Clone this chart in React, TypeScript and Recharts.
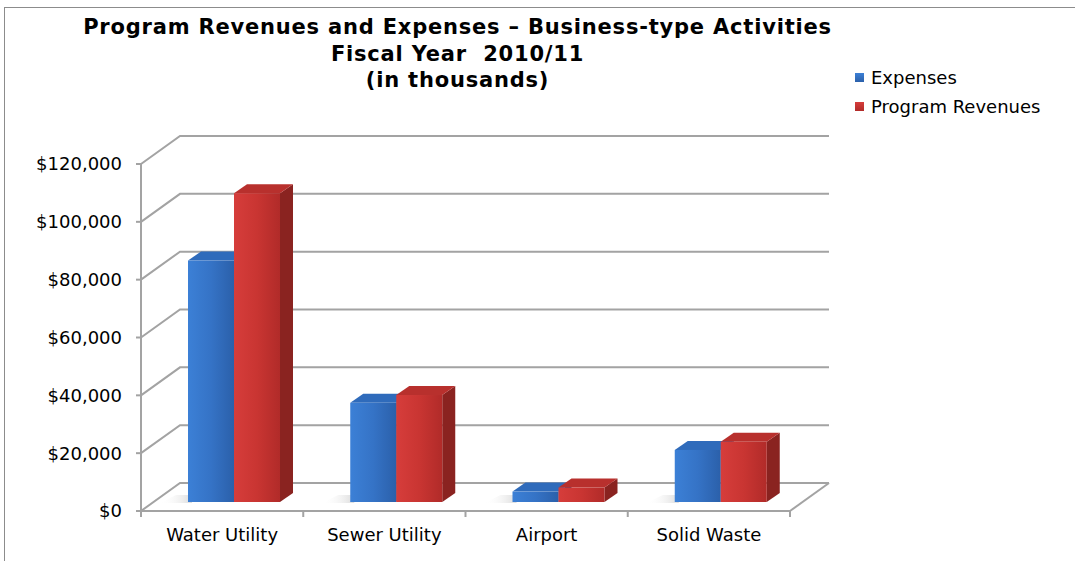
import { BarChart, Bar, XAxis, YAxis, CartesianGrid } from "recharts";

const categories = ["Water Utility", "Sewer Utility", "Airport", "Solid Waste"];
const expenses = [83500, 34300, 3600, 18000];
const programRevenues = [106800, 37000, 5000, 20800];
const yTicks = [0, 20000, 40000, 60000, 80000, 100000, 120000];

const data = categories.map((name, i) => ({
  name,
  expenses: expenses[i],
  revenues: programRevenues[i],
}));

const FONT = "Verdana, 'DejaVu Sans', sans-serif";
const CHART_W = 1075;
const CHART_H = 561;
const MARGIN = { top: 164, right: 285, bottom: 10, left: 41 };
const Y_AXIS_W = 100;
const X_AXIS_H = 40;
const PLOT_W = CHART_W - MARGIN.left - MARGIN.right - Y_AXIS_W;
const PLOT_BOTTOM = CHART_H - MARGIN.bottom - X_AXIS_H;

// 3d look: depth of the walls and of the boxes
const WALL_DX = 39;
const WALL_DY = 28;
const BAR_SHIFT_X = 12;
const BAR_SHIFT_Y = 9;
const BOX_DX = 13;
const BOX_DY = 9;

const GRID = "#a3a3a3";

const blue = { id: "blueFront", light: "#3c80d6", mid: "#3573c6", dark: "#2b60aa", top: "#2f6bbb", side: "#1f4a86" };
const red = { id: "redFront", light: "#d63d3b", mid: "#c93532", dark: "#b12b29", top: "#b8302d", side: "#8a2320" };

type Palette = typeof blue;

function boxShape(c: Palette, withShadow: boolean) {
  return (props: any) => {
    const { x, y, width, height } = props;
    if (height == null || width == null) return <g />;
    const fx = x + BAR_SHIFT_X;
    const fy = y - BAR_SHIFT_Y;
    const w = width;
    const h = height;
    const side = `${fx + w},${fy} ${fx + w + BOX_DX},${fy - BOX_DY} ${fx + w + BOX_DX},${fy + h - BOX_DY} ${fx + w},${fy + h}`;
    const top = `${fx},${fy} ${fx + BOX_DX},${fy - BOX_DY} ${fx + w + BOX_DX},${fy - BOX_DY} ${fx + w},${fy}`;
    const base = fy + h;
    const shadow = `${fx - 28},${base + 1} ${fx - 12},${base - 7} ${fx + 4},${base - 7} ${fx + 4},${base + 1}`;
    return (
      <g>
        <defs>
          <linearGradient id={c.id} x1="0" y1="0" x2="1" y2="0">
            <stop offset="0%" stopColor={c.light} />
            <stop offset="50%" stopColor={c.mid} />
            <stop offset="100%" stopColor={c.dark} />
          </linearGradient>
          <linearGradient id="floorShadow" x1="0" y1="0" x2="1" y2="0">
            <stop offset="0%" stopColor="#ffffff" stopOpacity={0} />
            <stop offset="100%" stopColor="#b8b8b8" stopOpacity={0.5} />
          </linearGradient>
        </defs>
        {withShadow && <polygon points={shadow} fill="url(#floorShadow)" />}
        <polygon points={side} fill={c.side} />
        <polygon points={top} fill={c.top} />
        <rect x={fx} y={fy} width={w} height={h} fill={`url(#${c.id})`} />
      </g>
    );
  };
}

// back-wall gridline with its diagonal on the side wall
const gridLine = (props: any) => {
  const { x1, y1, x2 } = props;
  const by = y1 - WALL_DY;
  const floor = Math.abs(y1 - PLOT_BOTTOM) < 1;
  return (
    <g key={`g-${y1}`}>
      <polyline
        points={`${x1},${y1} ${x1 + WALL_DX},${by} ${x2 + WALL_DX},${by}`}
        fill="none"
        stroke={GRID}
        strokeWidth={2}
      />
      {floor && (
        <line x1={x2} y1={y1} x2={x2 + WALL_DX} y2={by} stroke={GRID} strokeWidth={2} />
      )}
    </g>
  );
};

const XTick = (props: any) => {
  const { x, y, payload, index } = props;
  const band = PLOT_W / categories.length;
  const left = x - band / 2;
  return (
    <g>
      <line x1={left} y1={y} x2={left} y2={y + 6} stroke={GRID} strokeWidth={2} />
      {index === categories.length - 1 && (
        <line x1={x + band / 2} y1={y} x2={x + band / 2} y2={y + 6} stroke={GRID} strokeWidth={2} />
      )}
      <text x={x} y={y + 30} textAnchor="middle" fontSize={18} fontFamily={FONT} fill="#000">
        {payload.value}
      </text>
    </g>
  );
};

const legendItems = [
  { label: "Expenses", c: blue },
  { label: "Program Revenues", c: red },
];

export default function App() {
  return (
    <div style={{ position: "absolute", left: 0, top: 0, width: CHART_W, height: CHART_H, background: "#fff" }}>
      <div
        style={{
          position: "absolute",
          left: 4,
          top: 7,
          width: CHART_W - 4,
          height: CHART_H - 7,
          borderLeft: "1.5px solid #8c8c8c",
          borderTop: "1.5px solid #8c8c8c",
        }}
      />
      <div
        style={{
          position: "absolute",
          left: 0,
          top: 14,
          width: 915,
          textAlign: "center",
          fontFamily: FONT,
          fontWeight: "bold",
          fontSize: 21,
          letterSpacing: "0.8px",
          lineHeight: "26.5px",
          whiteSpace: "pre",
          color: "#000",
        }}
      >
        {"Program Revenues and Expenses \u2013 Business-type Activities\nFiscal Year  2010/11\n(in thousands)"}
      </div>
      <div style={{ position: "absolute", left: 855, top: 63, fontFamily: FONT, fontSize: 18, color: "#000" }}>
        {legendItems.map((it) => (
          <div key={it.label} style={{ display: "flex", alignItems: "center", height: 29 }}>
            <span
              style={{
                display: "inline-block",
                width: 9,
                height: 9,
                marginRight: 7,
                background: `linear-gradient(180deg, ${it.c.light}, ${it.c.dark})`,
              }}
            />
            {it.label}
          </div>
        ))}
      </div>
      <BarChart
        width={CHART_W}
        height={CHART_H}
        data={data}
        margin={MARGIN}
        barGap={0}
        barSize={46}
        style={{ position: "absolute", left: 0, top: 0 }}
      >
        <CartesianGrid vertical={false} horizontal={gridLine} />
        <XAxis
          dataKey="name"
          height={X_AXIS_H}
          axisLine={{ stroke: GRID, strokeWidth: 2 }}
          tickLine={false}
          tickSize={0}
          tickMargin={0}
          tick={<XTick />}
          interval={0}
        />
        <YAxis
          width={Y_AXIS_W}
          domain={[0, 120000]}
          ticks={yTicks}
          interval={0}
          axisLine={{ stroke: GRID, strokeWidth: 2 }}
          tickLine={{ stroke: GRID, strokeWidth: 2 }}
          tickSize={5}
          tickMargin={14}
          tick={{ fontSize: 18, fill: "#000", fontFamily: FONT }}
          tickFormatter={(v: number) => `$${v.toLocaleString("en-US")}`}
        />
        <Bar dataKey="expenses" shape={boxShape(blue, true)} isAnimationActive={false} />
        <Bar dataKey="revenues" shape={boxShape(red, false)} isAnimationActive={false} />
      </BarChart>
    </div>
  );
}
